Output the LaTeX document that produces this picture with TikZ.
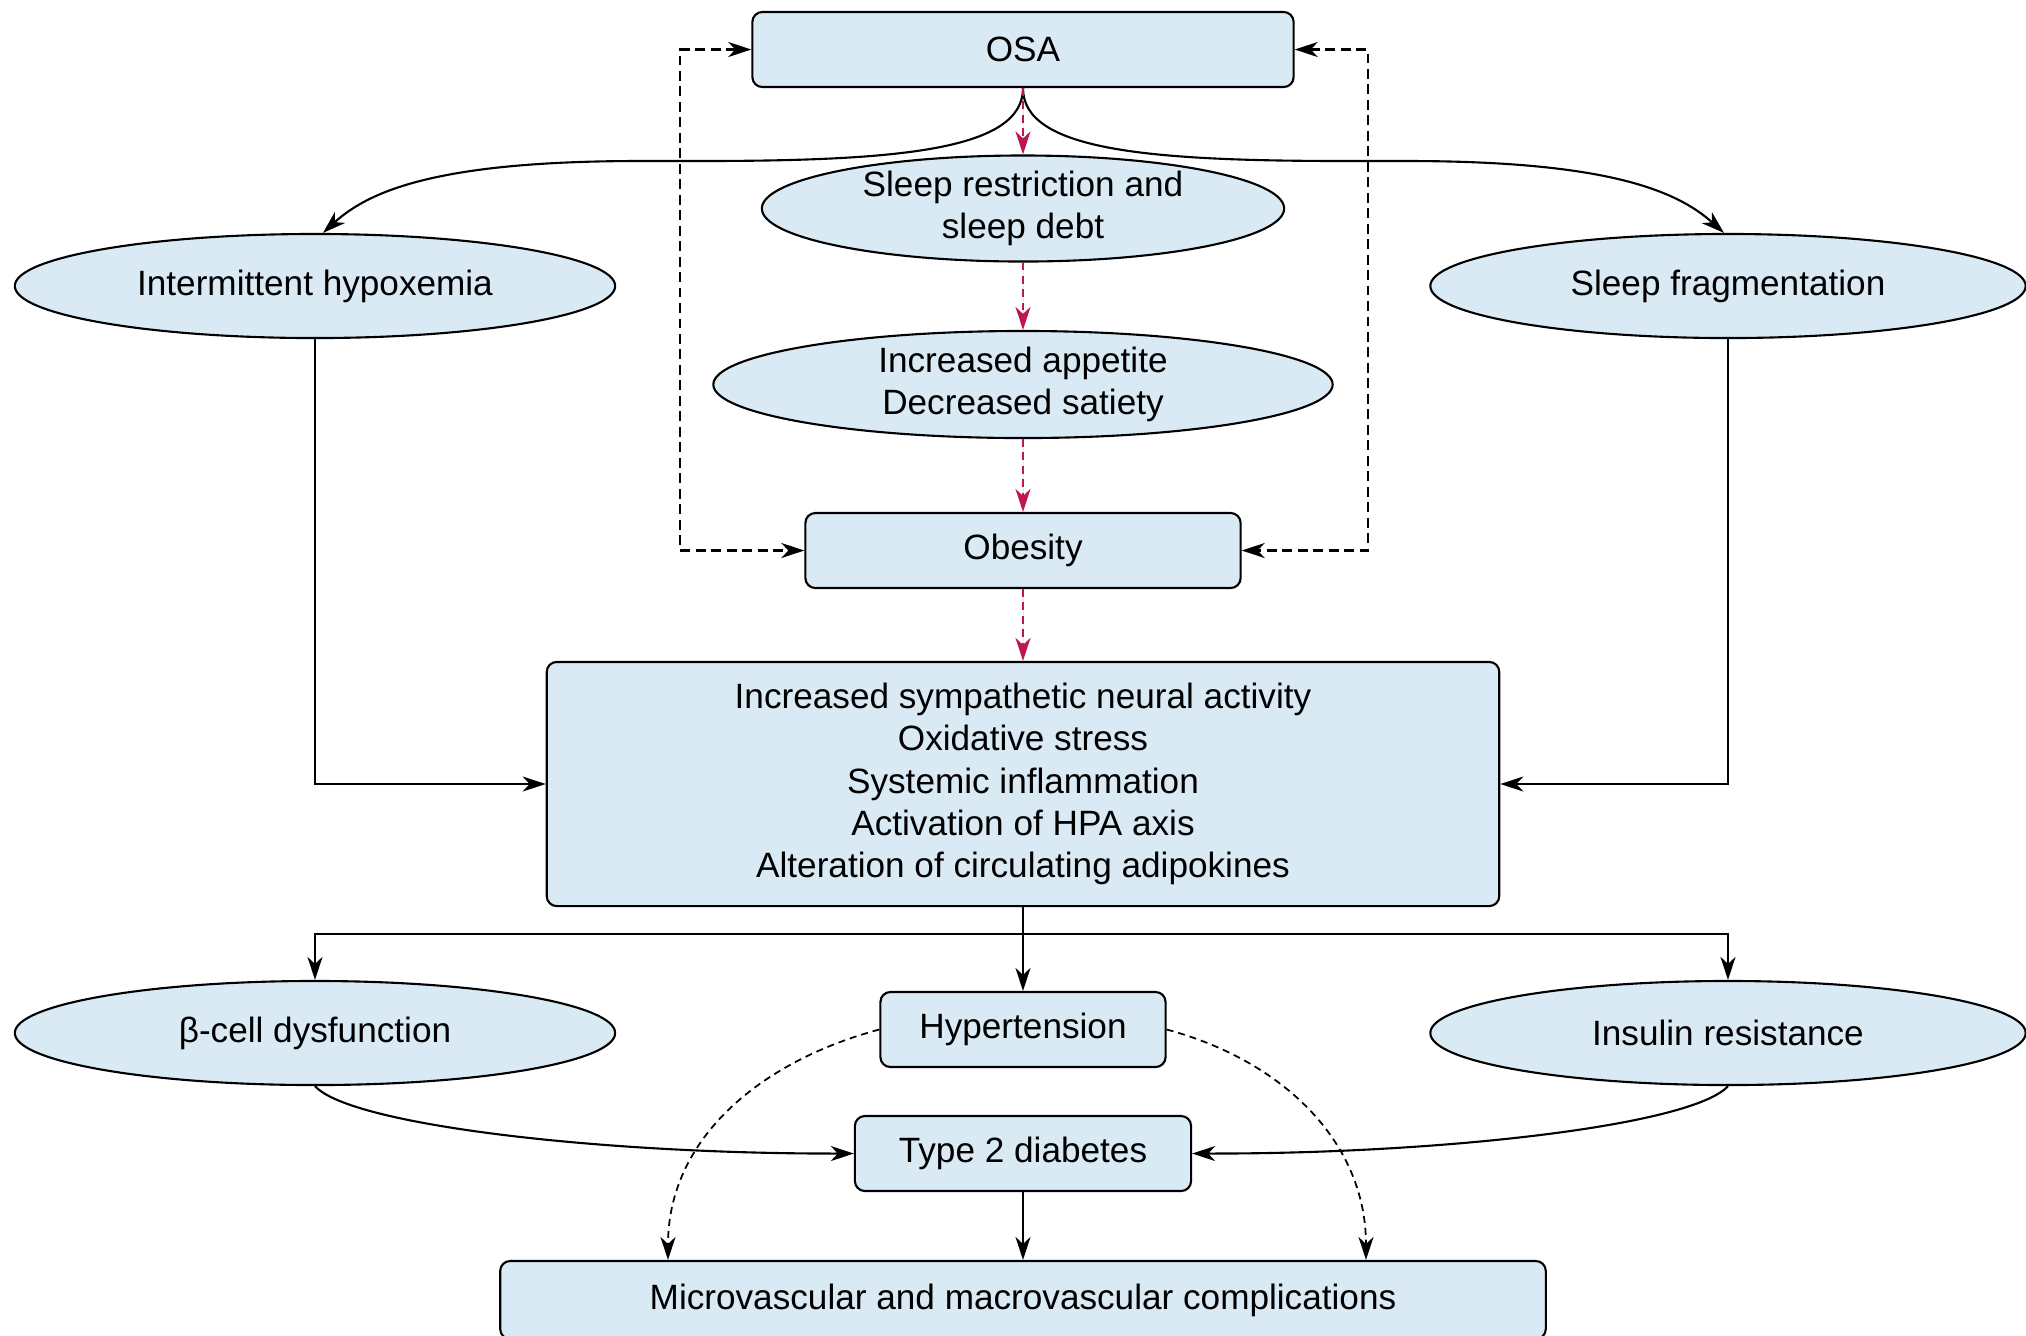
\documentclass[tikz,border=0pt]{standalone}
\usepackage{fontspec}
\setmainfont{Liberation Sans}
\usetikzlibrary{arrows.meta,shapes.geometric,calc}
\definecolor{boxblue}{RGB}{217,234,245}
\definecolor{linkred}{RGB}{190,22,80}
\tikzset{
  box/.style={draw, rounded corners=0.1cm, fill=boxblue, align=center, inner sep=3pt, line width=0.6pt, font=\fontsize{10}{12}\selectfont},
  oval/.style={draw, ellipse, fill=boxblue, align=center, inner sep=0pt, line width=0.6pt, font=\fontsize{10}{12}\selectfont},
  link/.style={-{Stealth[length=2.3mm,width=1.5mm,inset=0.7mm]}, line width=0.6pt},
  backlink/.style={{Stealth[length=2.3mm,width=1.5mm,inset=0.7mm]}-{Stealth[length=2.3mm,width=1.5mm,inset=0.7mm]}, line width=0.6pt, dash pattern=on 2.8pt off 1.6pt},
  redlink/.style={link, draw=linkred, fill=linkred, dash pattern=on 2.2pt off 1.6pt},
  thinlink/.style={link, line width=0.5pt, dash pattern=on 2pt off 1.4pt}
}

\begin{document}
\begin{tikzpicture}[x=0.01cm,y=-0.01cm]
\useasboundingbox (0,0) rectangle (2026,1335);

% Row 1: OSA and the direct consequences
\node[box, minimum width=5.41cm, minimum height=0.75cm] (OSA) at (1023,49.5) {OSA};
\node[oval, minimum width=5.22cm, minimum height=0.97cm] (Debt) at (1023,208.5) {Sleep restriction and\\sleep debt};
\node[oval, minimum width=6.0cm, minimum height=1.04cm] (Hypox) at (315,286) {Intermittent hypoxemia};
\node[oval, minimum width=5.95cm, minimum height=1.04cm] (Frag) at (1728,286) {Sleep fragmentation};

% Row 2: appetite and obesity
\node[oval, minimum width=6.19cm, minimum height=1.07cm] (Appetite) at (1023,384.5) {Increased appetite\\Decreased satiety};
\node[box, minimum width=4.35cm, minimum height=0.75cm] (Obesity) at (1023,550.5) {Obesity};

% Row 3: mechanisms
\node[box, minimum width=9.52cm, minimum height=2.44cm] (Mech) at (1023,784) {Increased sympathetic neural activity\\Oxidative stress\\Systemic inflammation\\Activation of HPA axis\\Alteration of circulating adipokines};
\coordinate (Split) at (1023,934);

% Row 4: outcomes
\node[oval, minimum width=6.0cm, minimum height=1.04cm] (Beta) at (315,1033) {β-cell dysfunction};
\node[box, minimum width=2.85cm, minimum height=0.75cm] (Hyper) at (1023,1029.5) {Hypertension};
\node[oval, minimum width=5.95cm, minimum height=1.04cm] (Insulin) at (1728,1033) {Insulin resistance};
\node[box, minimum width=3.36cm, minimum height=0.75cm] (T2D) at (1023,1153.5) {Type 2 diabetes};
\node[box, minimum width=10.45cm, minimum height=0.78cm] (Micro) at (1023,1300) {Microvascular and macrovascular complications};

% OSA -> hypoxemia / fragmentation
\draw[link] (OSA.south) .. controls (1023,150) and (900,161) .. (700,161) -- (640,161)
  .. controls (440,161) and (370,190) .. ($(Hypox.north)+(8,0)$);
\draw[link] (OSA.south) .. controls (1023,150) and (1146,161) .. (1346,161) -- (1406,161)
  .. controls (1606,161) and (1676,190) .. ($(Frag.north)+(-4,0)$);

% Sleep debt pathway (red dashed)
\draw[redlink] (OSA.south) -- (Debt.north);
\draw[redlink] (Debt.south) -- (Appetite.north);
\draw[redlink] (Appetite.south) -- (Obesity.north);
\draw[redlink] (Obesity.south) -- (Mech.north);

% OSA <-> obesity loops
\draw[backlink] (OSA.west) -- ++(-71,0) |- (Obesity.west);
\draw[backlink] (OSA.east) -- ++(73,0) |- (Obesity.east);

% Hypoxemia and fragmentation -> mechanisms
\draw[link] (Hypox.south) |- (Mech.west);
\draw[link] (Frag.south) |- (Mech.east);

% Mechanisms -> outcomes
\draw[line width=0.6pt] (Mech.south) -- (Split);
\draw[link] (Split) -- (Hyper.north);
\draw[link] (Split) -| (Beta.north);
\draw[link] (Split) -| (Insulin.north);

% Outcomes -> type 2 diabetes -> complications
\draw[link] (Beta.south) .. controls (350,1125) and (600,1154) .. (T2D.west);
\draw[link] (Insulin.south) .. controls (1693,1125) and (1445,1154) .. (T2D.east);
\draw[link] (T2D.south) -- (Micro.north);
\draw[thinlink] (Hyper.west) to[out=195,in=90] ($(Micro.north)+(-355,0)$);
\draw[thinlink] (Hyper.east) to[out=-15,in=90] ($(Micro.north)+(343,0)$);

\end{tikzpicture}
\end{document}
